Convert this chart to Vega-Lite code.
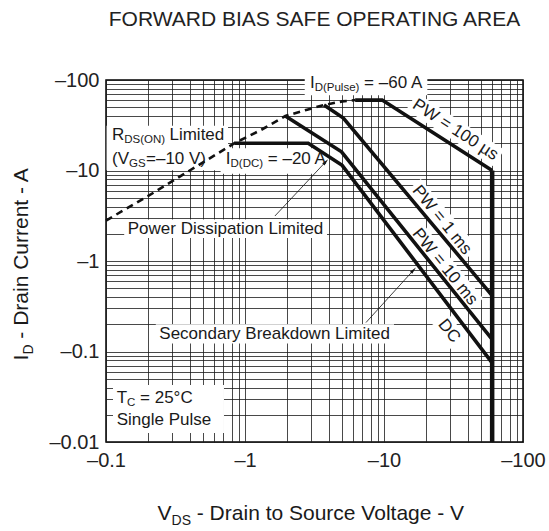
{
  "$schema": "https://vega.github.io/schema/vega-lite/v6.json",
  "width": 417,
  "height": 362,
  "autosize": {"type": "none"},
  "padding": {"left": 106, "top": 80, "right": 26, "bottom": 89},
  "background": "white",
  "title": {"text": "FORWARD BIAS SAFE OPERATING AREA", "fontSize": 21, "font": "Liberation Sans", "fontWeight": "normal", "color": "#222", "offset": 31, "anchor": "middle"},
  "config": {
    "view": {"stroke": "#000", "strokeWidth": 1.5},
    "axis": {"labelFont": "Liberation Sans", "labelFontSize": 20, "labelColor": "#222", "ticks": false, "domain": false, "grid": true, "gridColor": "#1a1a1a", "gridWidth": 0.8, "labelOverlap": false, "labelFlush": false, "labelBound": false}
  },
  "datasets": {
    "boxes": [
      {"V": 0.101, "V2": 0.755, "I": 31.3, "I2": 10.05},
      {"V": 0.6675, "V2": 4.0, "I": 17.6, "I2": 9.22},
      {"V": 2.69, "V2": 20.5, "I": 116.7, "I2": 67.9},
      {"V": 0.1352, "V2": 3.89, "I": 2.88, "I2": 1.795},
      {"V": 0.2282, "V2": 11.8, "I": 0.1998, "I2": 0.1226},
      {"V": 0.1123, "V2": 0.706, "I": 0.0427, "I2": 0.0126}
    ],
    "bands": [
      {"b": "100us", "V": 15.8, "I": 58.0}, {"b": "100us", "V": 67.1, "I": 13.7},
      {"b": "1ms", "V": 16.2, "I": 6.83}, {"b": "1ms", "V": 42.3, "I": 1.18},
      {"b": "10ms", "V": 16.5, "I": 2.275}, {"b": "10ms", "V": 45.4, "I": 0.329},
      {"b": "DC", "V": 25.3, "I": 0.2286}, {"b": "DC", "V": 34.1, "I": 0.124}
    ],
    "rdson": [
      {"V": 0.1, "I": 2.8}, {"V": 0.2, "I": 5.2}, {"V": 0.4, "I": 10}, {"V": 0.84, "I": 20},
      {"V": 1.3, "I": 28}, {"V": 1.95, "I": 40}, {"V": 2.8, "I": 47}, {"V": 3.7, "I": 53},
      {"V": 5, "I": 58}, {"V": 6.2, "I": 60}
    ],
    "curves": [
      {"s": "DC", "k": 1, "V": 0.84, "I": 20}, {"s": "DC", "k": 2, "V": 2.85, "I": 20},
      {"s": "DC", "k": 3, "V": 5.0, "I": 11.4}, {"s": "DC", "k": 4, "V": 60, "I": 0.075},
      {"s": "10ms", "k": 1, "V": 1.95, "I": 40}, {"s": "10ms", "k": 2, "V": 4.95, "I": 16.1},
      {"s": "10ms", "k": 3, "V": 60, "I": 0.136},
      {"s": "1ms", "k": 1, "V": 3.7, "I": 53}, {"s": "1ms", "k": 2, "V": 5.1, "I": 38},
      {"s": "1ms", "k": 3, "V": 60, "I": 0.415},
      {"s": "100us", "k": 1, "V": 6.2, "I": 60}, {"s": "100us", "k": 2, "V": 9.7, "I": 60},
      {"s": "100us", "k": 3, "V": 60, "I": 10}
    ],
    "vdss": [
      {"k": 1, "V": 60, "I": 10}, {"k": 2, "V": 60, "I": 0.01}
    ],
    "leaders": [
      {"id": "pd", "V": 1.641, "I": 3.14}, {"id": "pd", "V": 3.81, "I": 12.5},
      {"id": "sb", "V": 7.42, "I": 0.209}, {"id": "sb", "V": 16.3, "I": 0.792}
    ],
    "heads": [
      {"V": 3.81, "I": 12.5}, {"V": 16.3, "I": 0.792}
    ],
    "texts": [
      {"t": "R", "V": 0.1104, "I": 24.8},
      {"t": "Limited", "V": 0.2862, "I": 24.8},
      {"t": "(V", "V": 0.1104, "I": 13.57},
      {"t": "=–10 V)", "V": 0.194, "I": 13.57},
      {"t": "I", "V": 0.7277, "I": 13.57},
      {"t": "= –20 A", "V": 1.459, "I": 13.57},
      {"t": "I", "V": 2.935, "I": 91.7},
      {"t": "= –60 A", "V": 7.19, "I": 91.7},
      {"t": "Power Dissipation Limited", "V": 0.1433, "I": 2.286},
      {"t": "Secondary Breakdown Limited", "V": 0.2418, "I": 0.1545},
      {"t": "T", "V": 0.1194, "I": 0.0306},
      {"t": "= 25°C", "V": 0.1757, "I": 0.0306},
      {"t": "Single Pulse", "V": 0.1194, "I": 0.0175}
    ],
    "subs": [
      {"t": "DS(ON)", "V": 0.1354, "I": 24.8},
      {"t": "GS", "V": 0.1464, "I": 13.57},
      {"t": "D(DC)", "V": 0.7864, "I": 13.57},
      {"t": "D(Pulse)", "V": 3.171, "I": 91.7},
      {"t": "C", "V": 0.1418, "I": 0.0306}
    ],
    "rot33": [
      {"t": "PW = 100 µs", "V": 32.6, "I": 28.2}
    ],
    "rot51": [
      {"t": "PW = 1 ms", "V": 26.1, "I": 2.84},
      {"t": "PW = 10 ms", "V": 27.4, "I": 0.865},
      {"t": "DC", "V": 29.4, "I": 0.1685}
    ],
    "xtitle": [
      {"t": "V", "V": 0.235, "I": 0.001614},
      {"t": "- Drain to Source Voltage - V", "V": 0.45, "I": 0.001614}
    ],
    "xtitlesub": [
      {"t": "DS", "V": 0.2964, "I": 0.001614}
    ],
    "ytitle": [
      {"t": "I", "V": 0.02487, "I": 0.0797},
      {"t": "- Drain Current - A", "V": 0.02487, "I": 0.1385}
    ],
    "ytitlesub": [
      {"t": "D", "V": 0.02487, "I": 0.0924}
    ]
  },
  "layer": [
    {
      "data": {"name": "boxes"},
      "mark": {"type": "rect", "fill": "white", "stroke": null},
      "encoding": {
        "x": {"field": "V", "type": "quantitative", "title": null,
          "scale": {"type": "log", "domain": [0.1, 100], "nice": false},
          "axis": {"values": [0.1,0.2,0.3,0.4,0.5,0.6,0.7,0.8,0.9,1,2,3,4,5,6,7,8,9,10,20,30,40,50,60,70,80,90,100],
            "labelExpr": "indexof([0.1,1,10,100], datum.value) >= 0 ? '–' + datum.value : ''", "labelPadding": 8}},
        "x2": {"field": "V2"},
        "y": {"field": "I", "type": "quantitative", "title": null,
          "scale": {"type": "log", "domain": [0.01, 100], "nice": false},
          "axis": {"values": [0.01,0.02,0.03,0.04,0.05,0.06,0.07,0.08,0.09,0.1,0.2,0.3,0.4,0.5,0.6,0.7,0.8,0.9,1,2,3,4,5,6,7,8,9,10,20,30,40,50,60,70,80,90,100],
            "labelExpr": "indexof([0.01,0.1,1,10,100], datum.value) >= 0 ? '–' + datum.value : ''", "labelPadding": 7}},
        "y2": {"field": "I2"}
      }
    },
    {
      "data": {"name": "bands"},
      "mark": {"type": "line", "color": "white", "strokeWidth": 20, "strokeCap": "butt"},
      "encoding": {
        "x": {"field": "V", "type": "quantitative", "title": null},
        "y": {"field": "I", "type": "quantitative", "title": null},
        "detail": {"field": "b"}
      }
    },
    {
      "data": {"name": "rdson"},
      "mark": {"type": "line", "color": "#111", "strokeWidth": 2.6, "strokeDash": [7, 5]},
      "encoding": {
        "x": {"field": "V", "type": "quantitative", "title": null},
        "y": {"field": "I", "type": "quantitative", "title": null}
      }
    },
    {
      "data": {"name": "curves"},
      "mark": {"type": "line", "color": "#111", "strokeWidth": 3.6},
      "encoding": {
        "x": {"field": "V", "type": "quantitative", "title": null},
        "y": {"field": "I", "type": "quantitative", "title": null},
        "detail": {"field": "s"},
        "order": {"field": "k"}
      }
    },
    {
      "data": {"name": "vdss"},
      "mark": {"type": "line", "color": "#111", "strokeWidth": 4.5},
      "encoding": {
        "x": {"field": "V", "type": "quantitative", "title": null},
        "y": {"field": "I", "type": "quantitative", "title": null},
        "order": {"field": "k"}
      }
    },
    {
      "data": {"name": "leaders"},
      "mark": {"type": "line", "color": "#111", "strokeWidth": 0.8},
      "encoding": {
        "x": {"field": "V", "type": "quantitative", "title": null},
        "y": {"field": "I", "type": "quantitative", "title": null},
        "detail": {"field": "id"}
      }
    },
    {
      "data": {"name": "heads"},
      "mark": {"type": "point", "shape": "M0,-1L0.45,1L-0.45,1Z", "filled": true, "color": "#111", "opacity": 1, "size": 50, "angle": 43},
      "encoding": {
        "x": {"field": "V", "type": "quantitative", "title": null},
        "y": {"field": "I", "type": "quantitative", "title": null}
      }
    },
    {
      "data": {"name": "texts"},
      "mark": {"type": "text", "align": "left", "baseline": "middle", "font": "Liberation Sans", "fontSize": 17, "color": "#1a1a1a"},
      "encoding": {
        "x": {"field": "V", "type": "quantitative", "title": null},
        "y": {"field": "I", "type": "quantitative", "title": null},
        "text": {"field": "t"}
      }
    },
    {
      "data": {"name": "subs"},
      "mark": {"type": "text", "align": "left", "baseline": "middle", "dy": 5, "font": "Liberation Sans", "fontSize": 11.5, "color": "#1a1a1a"},
      "encoding": {
        "x": {"field": "V", "type": "quantitative", "title": null},
        "y": {"field": "I", "type": "quantitative", "title": null},
        "text": {"field": "t"}
      }
    },
    {
      "data": {"name": "rot33"},
      "mark": {"type": "text", "align": "center", "baseline": "middle", "angle": 33, "font": "Liberation Sans", "fontSize": 17, "color": "#1a1a1a"},
      "encoding": {
        "x": {"field": "V", "type": "quantitative", "title": null},
        "y": {"field": "I", "type": "quantitative", "title": null},
        "text": {"field": "t"}
      }
    },
    {
      "data": {"name": "rot51"},
      "mark": {"type": "text", "align": "center", "baseline": "middle", "angle": 51, "font": "Liberation Sans", "fontSize": 17, "color": "#1a1a1a"},
      "encoding": {
        "x": {"field": "V", "type": "quantitative", "title": null},
        "y": {"field": "I", "type": "quantitative", "title": null},
        "text": {"field": "t"}
      }
    },
    {
      "data": {"name": "xtitle"},
      "mark": {"type": "text", "align": "left", "baseline": "middle", "font": "Liberation Sans", "fontSize": 21, "color": "#1a1a1a"},
      "encoding": {
        "x": {"field": "V", "type": "quantitative", "title": null},
        "y": {"field": "I", "type": "quantitative", "title": null},
        "text": {"field": "t"}
      }
    },
    {
      "data": {"name": "xtitlesub"},
      "mark": {"type": "text", "align": "left", "baseline": "middle", "dy": 7, "font": "Liberation Sans", "fontSize": 14, "color": "#1a1a1a"},
      "encoding": {
        "x": {"field": "V", "type": "quantitative", "title": null},
        "y": {"field": "I", "type": "quantitative", "title": null},
        "text": {"field": "t"}
      }
    },
    {
      "data": {"name": "ytitle"},
      "mark": {"type": "text", "align": "left", "baseline": "middle", "angle": 270, "font": "Liberation Sans", "fontSize": 21, "color": "#1a1a1a"},
      "encoding": {
        "x": {"field": "V", "type": "quantitative", "title": null},
        "y": {"field": "I", "type": "quantitative", "title": null},
        "text": {"field": "t"}
      }
    },
    {
      "data": {"name": "ytitlesub"},
      "mark": {"type": "text", "align": "left", "baseline": "middle", "angle": 270, "dy": 7, "font": "Liberation Sans", "fontSize": 14, "color": "#1a1a1a"},
      "encoding": {
        "x": {"field": "V", "type": "quantitative", "title": null},
        "y": {"field": "I", "type": "quantitative", "title": null},
        "text": {"field": "t"}
      }
    }
  ]
}
